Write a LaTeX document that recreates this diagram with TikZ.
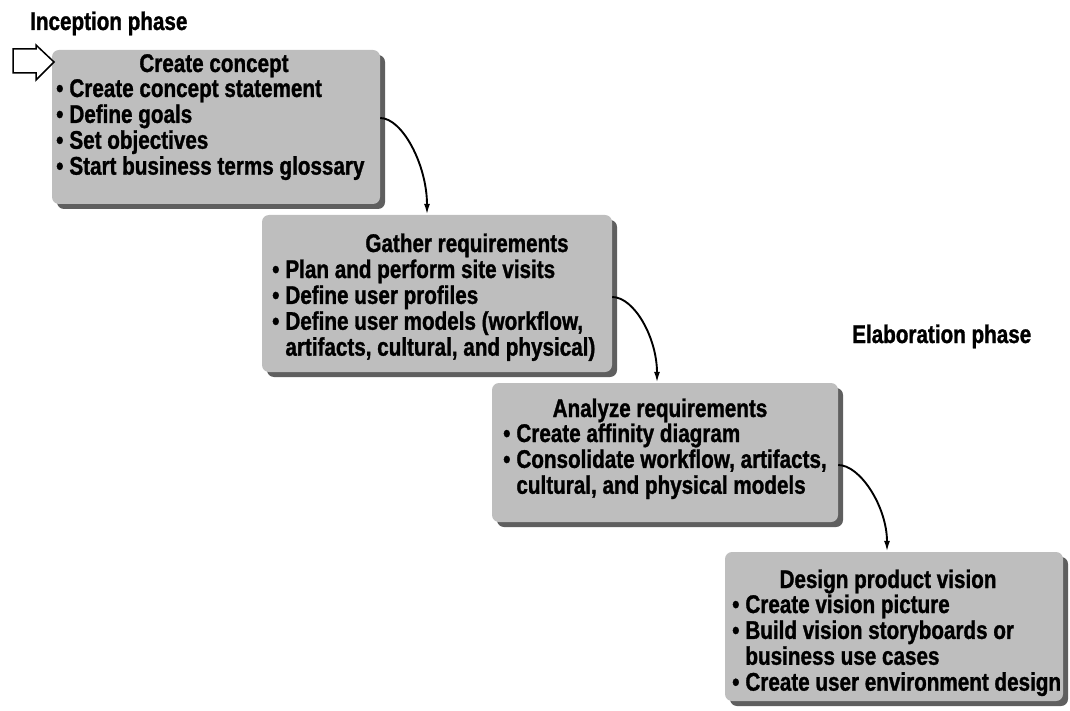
\documentclass[tikz,border=0pt]{standalone}
\usepackage{fontspec}
\setmainfont{Liberation Sans}[FakeStretch=0.81, BoldFeatures={FakeBold=1.2}]
\usetikzlibrary{arrows.meta,calc}

\definecolor{boxface}{RGB}{190,190,190}
\definecolor{boxshade}{RGB}{95,95,95}

\tikzset{
  stage/.style={fill=boxface, rounded corners=7pt, inner sep=0pt},
  stagefont/.style={inner sep=0pt, font=\bfseries\fontsize{25.5}{24.7}\selectfont},
  stagetitle/.style={stagefont, anchor=base},
  stagelist/.style={stagefont, anchor=base west},
  phase/.style={stagefont, anchor=base west},
  flow/.style={line width=1.9pt, -{Latex[length=11pt,width=6pt]}},
}

% shaded stage box: face plus a dark band along the right and bottom
\newcommand{\stagebox}[5]{%
  \fill[boxshade, rounded corners=7pt] (#2+5,#3+5) rectangle (#4+5,#5+5);
  \node[stage, minimum width=#4-#2, minimum height=#5-#3] (#1) at ({(#2+#4)/2},{(#3+#5)/2}) {};
}

\begin{document}
\begin{tikzpicture}[x=1pt, y=-1pt]
  \useasboundingbox (0,0) rectangle (1070,711);

  % phase labels
  \node[phase] (inception) at (30,30) {Inception phase};
  \node[phase] (elaboration) at (852,343) {Elaboration phase};

  % stage boxes
  \stagebox{concept}{52}{50}{380}{204}
  \stagebox{gather}{262}{215}{612}{372}
  \stagebox{analyze}{492}{383}{838}{522}
  \stagebox{design}{725}{552}{1063}{701}

  % entry arrow
  \draw[line width=1.5pt, fill=white, line join=miter]
    (13,49) -- (36,49) -- (36,45) -- (54,62) -- (36,80) -- (36,73) -- (13,73) -- cycle;

  % stage texts
  \node[stagetitle] (conceptT) at (214,72) {Create concept};
  \node[stagelist] (conceptL) at (56,97) {\begin{tabular}[t]{@{}l@{\hspace{6pt}}l@{}}
    •&Create concept statement\\
    •&Define goals\\
    •&Set objectives\\
    •&Start business terms glossary
  \end{tabular}};

  \node[stagetitle] (gatherT) at (467,252) {Gather requirements};
  \node[stagelist] (gatherL) at (272,278) {\begin{tabular}[t]{@{}l@{\hspace{6pt}}l@{}}
    •&Plan and perform site visits\\
    •&Define user profiles\\
    •&Define user models (workflow,\\
     &artifacts, cultural, and physical)
  \end{tabular}};

  \node[stagetitle] (analyzeT) at (660,417) {Analyze requirements};
  \node[stagelist] (analyzeL) at (503,442) {\begin{tabular}[t]{@{}l@{\hspace{6pt}}l@{}}
    •&Create affinity diagram\\
    •&Consolidate workflow, artifacts,\\
     &cultural, and physical models
  \end{tabular}};

  \node[stagetitle] (designT) at (888,588) {Design product vision};
  \node[stagelist] (designL) at (732,613) {\begin{tabular}[t]{@{}l@{\hspace{6pt}}l@{}}
    •&Create vision picture\\
    •&Build vision storyboards or\\
     &business use cases\\
    •&Create user environment design
  \end{tabular}};

  % connectors between stages
  \draw[flow] ([yshift=9pt]concept.east) .. controls +(22,0) and +(0,-50) .. ([xshift=-10pt]gather.north);
  \draw[flow] ([yshift=-3.5pt]gather.east) .. controls +(22,0) and +(0,-45) .. ([xshift=-8pt]analyze.north);
  \draw[flow] ([yshift=-12.5pt]analyze.east) .. controls +(22,0) and +(0,-45) .. ([xshift=-7pt]design.north);
\end{tikzpicture}
\end{document}
